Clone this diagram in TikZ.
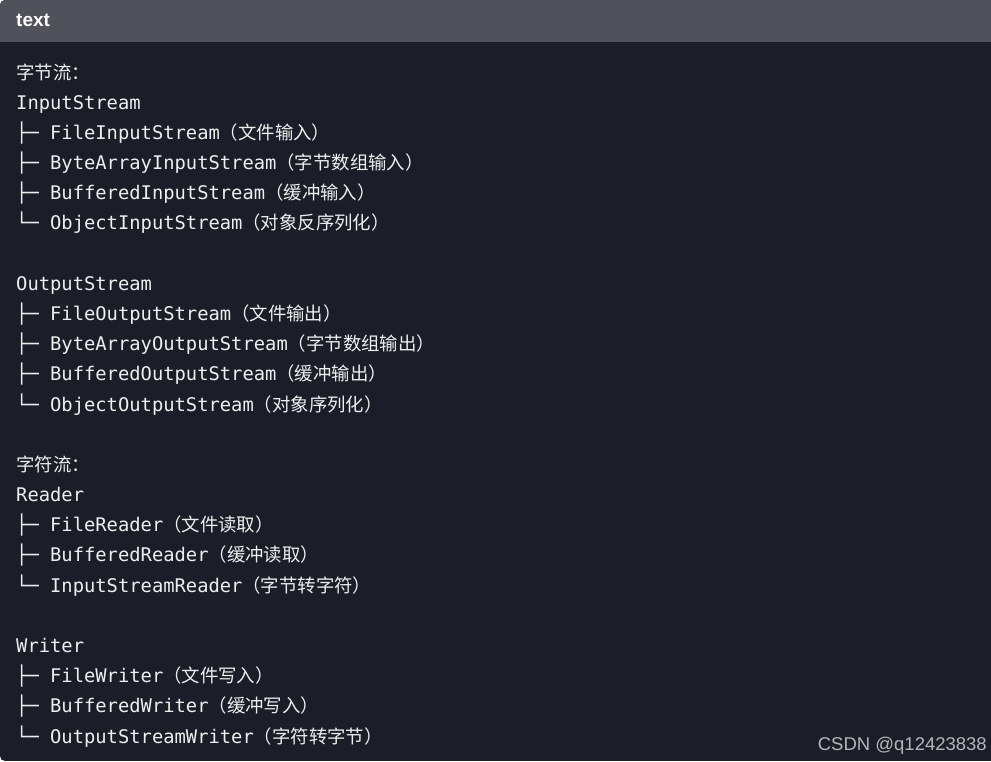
\documentclass[tikz,border=0pt]{standalone}
\usepackage{fontspec}
\setmainfont{Liberation Sans}
\setmonofont{DejaVu Sans Mono}
\newfontfamily\cjk{Noto Sans CJK SC}
\definecolor{codebg}{HTML}{1B1E28}
\definecolor{headbg}{HTML}{50515A}
\definecolor{codefg}{HTML}{EEEEEE}
\definecolor{markgray}{HTML}{B4B6BA}
\newcommand{\zh}[1]{{\cjk\fontsize{18.4}{20}\selectfont #1}}
\begin{document}
\begin{tikzpicture}
    [x=1pt, y=-1pt,
    line/.style = {anchor=base west, inner sep=0pt, text=codefg,
                   font=\fontsize{18.8}{20}\ttfamily}]
    \useasboundingbox (0,0) rectangle (991,761);
    % Fondo del bloque de codigo
    \begin{scope}
        \clip[rounded corners=5] (0,0) rectangle (1000,761);
        \fill[codebg] (0,0) rectangle (991,761);
        \fill[headbg] (0,0) rectangle (991,42);
    \end{scope}
    \node[anchor=base west, inner sep=0pt, text=white,
          font=\fontsize{19}{20}\bfseries] (head) at (16,26) {text};
    % Flujos de bytes
    \node[line] (bytes) at (16,79) {\zh{字节流：}};
    \node[line] (IS) at (16,109.2) {InputStream};
    \node[line] (FIS) at (16,139.4) {├─ FileInputStream\zh{（文件输入）}};
    \node[line] (BAIS) at (16,169.5) {├─ ByteArrayInputStream\zh{（字节数组输入）}};
    \node[line] (BIS) at (16,199.7) {├─ BufferedInputStream\zh{（缓冲输入）}};
    \node[line] (OIS) at (16,229.9) {└─ ObjectInputStream\zh{（对象反序列化）}};
    \node[line] (OS) at (16,290.3) {OutputStream};
    \node[line] (FOS) at (16,320.4) {├─ FileOutputStream\zh{（文件输出）}};
    \node[line] (BAOS) at (16,350.6) {├─ ByteArrayOutputStream\zh{（字节数组输出）}};
    \node[line] (BOS) at (16,380.8) {├─ BufferedOutputStream\zh{（缓冲输出）}};
    \node[line] (OOS) at (16,411) {└─ ObjectOutputStream\zh{（对象序列化）}};
    % Flujos de caracteres
    \node[line] (chars) at (16,471.3) {\zh{字符流：}};
    \node[line] (R) at (16,501.5) {Reader};
    \node[line] (FR) at (16,531.7) {├─ FileReader\zh{（文件读取）}};
    \node[line] (BR) at (16,561.9) {├─ BufferedReader\zh{（缓冲读取）}};
    \node[line] (ISR) at (16,592.1) {└─ InputStreamReader\zh{（字节转字符）}};
    \node[line] (W) at (16,652.4) {Writer};
    \node[line] (FW) at (16,682.6) {├─ FileWriter\zh{（文件写入）}};
    \node[line] (BW) at (16,712.8) {├─ BufferedWriter\zh{（缓冲写入）}};
    \node[line] (OSW) at (16,743) {└─ OutputStreamWriter\zh{（字符转字节）}};
    % Marca de agua
    \node[anchor=base east, inner sep=0pt, text=markgray,
          font=\fontsize{18.5}{20}\selectfont] (mark) at (987,750) {CSDN @q12423838};
\end{tikzpicture}
\end{document}
